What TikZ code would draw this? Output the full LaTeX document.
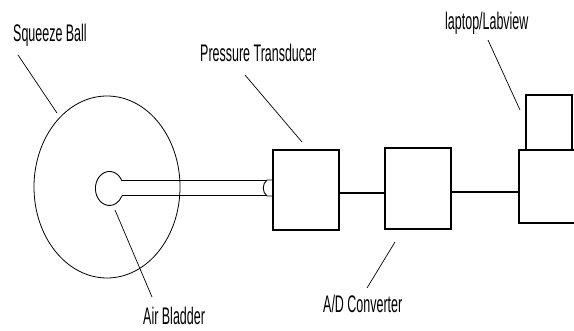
\documentclass[tikz,border=0pt]{standalone}
\usepackage{fontspec}
\usetikzlibrary{shapes.geometric}
\newfontfamily\narrowfont[FakeStretch=0.52]{Liberation Sans}
\begin{document}
\begin{tikzpicture}[x=1pt, y=-1pt]
  \tikzstyle{blk} = [draw, line width=1.2pt, inner sep=0pt]
  \tikzstyle{lbl} = [anchor=base west, inner sep=0pt, font=\narrowfont\fontsize{24}{24}\selectfont]
  \tikzstyle{lead} = [draw, line width=0.7pt]
  \useasboundingbox (0,0) rectangle (574,331);
  % squeeze ball and bladder
  \node[draw, line width=0.8pt, ellipse, minimum width=146pt, minimum height=182pt] (ball) at (107,187) {};
  \draw[line width=0.9pt] (122,181) arc[start angle=-26, end angle=-334, x radius=14, y radius=17];
  % tube to transducer
  \node[blk, minimum width=66pt, minimum height=80pt] (pt) at (306,190) {};
  \draw[line width=1pt] (122,181) -- (266,181);
  \draw[line width=1pt] (122,196) -- (266,196);
  \draw[line width=0.9pt] (pt.west |- 0,180) -- (267,180) .. controls (262,184) and (262,192) .. (267,196) -- (pt.west |- 0,196);
  % converter and laptop
  \node[blk, minimum width=66pt, minimum height=81pt] (ad) at (418,188.5) {};
  \node[blk, minimum width=72pt, minimum height=73pt] (lap) at (555,186.5) {};
  \node[blk, minimum width=46pt, minimum height=55pt] (scr) at (549,122.5) {};
  \draw[line width=1.2pt] (pt.east |- 0,193) -- (ad.west |- 0,193);
  \draw[line width=1.2pt] (ad.east |- 0,192) -- (lap.west |- 0,192);
  % labels
  \node[lbl] (sb) at (13,42) {Squeeze Ball};
  \node[lbl] (ptl) at (200,62) {Pressure Transducer};
  \node[lbl] (lv) at (445,30) {laptop/Labview};
  \node[lbl] (adl) at (323,313) {A/D Converter};
  \node[lbl] (ab) at (143,325) {Air Bladder};
  \path[lead] (18,55) -- (57,113);
  \path[lead] (245,75) -- (302,142);
  \path[lead] (488,40) -- (520,110);
  \path[lead] (395,242) -- (367,288);
  \path[lead] (115,210) -- (152,297);
\end{tikzpicture}
\end{document}
